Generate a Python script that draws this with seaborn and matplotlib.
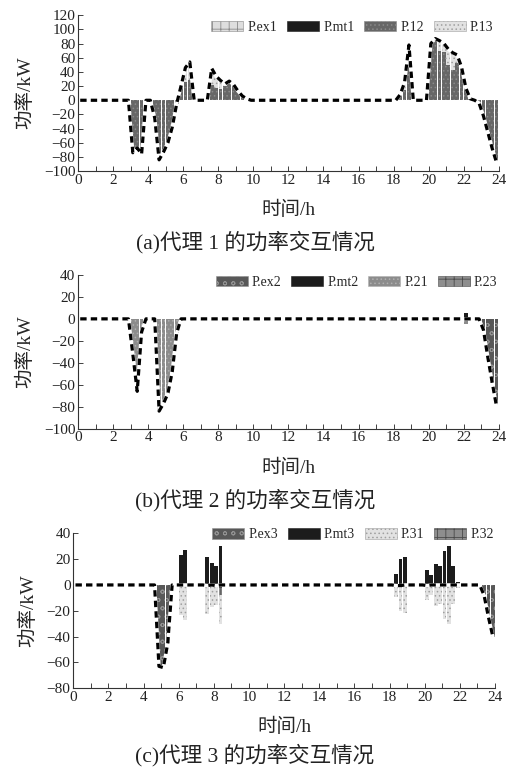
import numpy as np
import matplotlib
matplotlib.use("Agg")
import matplotlib.pyplot as plt
from matplotlib.patches import Patch
from matplotlib.ticker import MultipleLocator
import seaborn as sns

# 15-min bins over one day, bars centred in each bin
t = np.arange(96) * 0.25 + 0.125

# values: {bin start hour: consecutive values}
# agent 1
p_ex1 = {}
p_mt1 = {}
p_12 = {3.0: [-74, -67, -76],
        4.25: [-25, -84, -73, -60, -38, -5, 20, 26, 28],
        7.5: [22, 18, 16, 20, 27, 22, 13, 6, 2],
        18.25: [8, 15, 60],
        20.0: [80, 84, 70, 68, 50, 42, 52, 47, 17, 2],
        22.75: [-4, -22, -45, -68, -88]}
p_13 = {6.0: [20, 26],
        7.5: [23, 16, 12, 3],
        18.5: [10, 18],
        20.25: [3, 14, 12, 22, 25, 12]}
# agent 2
p_ex2 = {23.0: [-10, -35, -58, -80]}
p_mt2 = {22.0: [5]}
p_21 = {3.0: [-32, -66, -12],
        4.5: [-84, -77, -68, -48, -13],
        22.0: [-5]}
p_23 = {}
# agent 3
p_ex3 = {4.75: [-63, -64, -45],
         23.25: [-8, -25, -40]}
p_mt3 = {6.0: [23, 27],
         7.5: [22, 17, 15, 30],
         18.25: [8.5, 20, 22],
         20.0: [11.5, 8, 16, 15, 26, 30, 15, 2]}
p_31 = {6.0: [-23, -27],
        7.5: [-22.5, -17, -15.5, -22],
        18.25: [-9, -20.5, -22],
        20.0: [-12, -8, -16, -15, -26, -30, -15, -2]}
p_32 = {8.25: [-8]}

captions = ["(a)代理 1 的功率交互情况", "(b)代理 2 的功率交互情况", "(c)代理 3 的功率交互情况"]


def series(segs):
    arr = np.zeros(96)
    for start, vals in segs.items():
        i0 = int(round(start * 4))
        arr[i0:i0 + len(vals)] = vals
    return arr


STYLE = {
    "ex_light": dict(color="#dedede", edgecolor="#8a8a8a", hatch="++"),
    "ex_dark": dict(color="#585858", edgecolor="#929292", hatch="oo"),
    "mt": dict(color="#1c1c1c", edgecolor="#1c1c1c", hatch=None),
    "dark": dict(color="#676767", edgecolor="#8a8a8a", hatch="...."),
    "light": dict(color="#e2e2e2", edgecolor="#a0a0a0", hatch="...."),
    "mid": dict(color="#8c8c8c", edgecolor="#b0b0b0", hatch="...."),
    "grid": dict(color="#8e8e8e", edgecolor="#4a4a4a", hatch="++"),
}

panels = [
    dict(comps=[("P.ex1", p_ex1, "ex_light"), ("P.mt1", p_mt1, "mt"),
                ("P.12", p_12, "dark"), ("P.13", p_13, "light")],
         stack=["P.12", "P.13", "P.ex1", "P.mt1"],
         ylim=(-100, 120), pos=[0.153, 0.778, 0.825, 0.2023], cap_y=242, leg=(1.0, 0.923)),
    dict(comps=[("P.ex2", p_ex2, "ex_dark"), ("P.mt2", p_mt2, "mt"),
                ("P.21", p_21, "mid"), ("P.23", p_23, "grid")],
         stack=["P.21", "P.23", "P.ex2", "P.mt2"],
         ylim=(-100, 40), pos=[0.153, 0.444, 0.825, 0.1994], cap_y=500, leg=(1.01, 0.954)),
    dict(comps=[("P.ex3", p_ex3, "ex_dark"), ("P.mt3", p_mt3, "mt"),
                ("P.31", p_31, "light"), ("P.32", p_32, "grid")],
         stack=["P.32", "P.31", "P.ex3", "P.mt3"],
         ylim=(-80, 40), pos=[0.1437, 0.1073, 0.827, 0.201], cap_y=755, leg=(1.01, 0.99)),
]

sns.set_style("ticks")
plt.rcParams["font.family"] = ["Liberation Serif", "Noto Sans CJK SC"]
plt.rcParams["hatch.linewidth"] = 0.6
plt.rcParams["axes.unicode_minus"] = True

fig = plt.figure(figsize=(5.1, 7.71), dpi=100)

for k, pnl in enumerate(panels):
    ax = fig.add_axes(pnl["pos"])
    data = {name: series(segs) for name, segs, _ in pnl["comps"]}
    styles = {name: st for name, _, st in pnl["comps"]}
    names = pnl["stack"]
    # overlay cumulative sums, outermost first, for stacked bars
    cum_pos = np.cumsum([np.clip(data[n], 0, None) for n in names], axis=0)
    cum_neg = np.cumsum([np.clip(data[n], None, 0) for n in names], axis=0)
    for j in range(len(names) - 1, -1, -1):
        st = STYLE[styles[names[j]]]
        for cum in (cum_pos[j], cum_neg[j]):
            sns.barplot(x=t, y=cum, native_scale=True, ax=ax, errorbar=None,
                        width=0.86, saturation=1, color=st["color"],
                        edgecolor=st["edgecolor"], hatch=st["hatch"], linewidth=0)
    net = sum(data.values())
    sns.lineplot(x=t, y=net, ax=ax, color="white", lw=2.5)
    sns.lineplot(x=t, y=net, ax=ax, color="black", lw=2.3, linestyle=(0, (2.0, 1.3)))

    ax.set_xlim(0, 24)
    ax.set_ylim(*pnl["ylim"])
    ax.xaxis.set_major_locator(MultipleLocator(2))
    ax.xaxis.set_minor_locator(MultipleLocator(1))
    ax.yaxis.set_major_locator(MultipleLocator(20))
    ax.tick_params(axis="both", which="both", direction="in", labelsize=11,
                   width=0.6, colors="#222222", pad=2)
    ax.tick_params(axis="both", which="major", length=3.5)
    ax.tick_params(axis="x", which="minor", length=3.5)
    for sp in ("top", "right"):
        ax.spines[sp].set_visible(False)
    for sp in ("left", "bottom"):
        ax.spines[sp].set_linewidth(0.8)
        ax.spines[sp].set_color("#333333")
    ax.set_xlabel("时间/h", fontsize=14, labelpad=10)
    ax.set_ylabel("功率/kW", fontsize=14, labelpad=7)

    handles = [Patch(facecolor=STYLE[st]["color"], edgecolor=STYLE[st]["edgecolor"],
                     hatch=STYLE[st]["hatch"], linewidth=0.4, label=name)
               for name, _, st in pnl["comps"]]
    ax.legend(handles=handles, ncol=4, loc="center right", bbox_to_anchor=pnl["leg"],
              frameon=False, fontsize=10, handlelength=2.3, handleheight=0.75,
              handletextpad=0.3, columnspacing=0.7, borderaxespad=0.0)

    fig.text(0.5, 1 - pnl["cap_y"] / 771, captions[k], ha="center", va="center",
             fontsize=15.5, color="#222222")

fig.savefig("out.png", dpi=100)
